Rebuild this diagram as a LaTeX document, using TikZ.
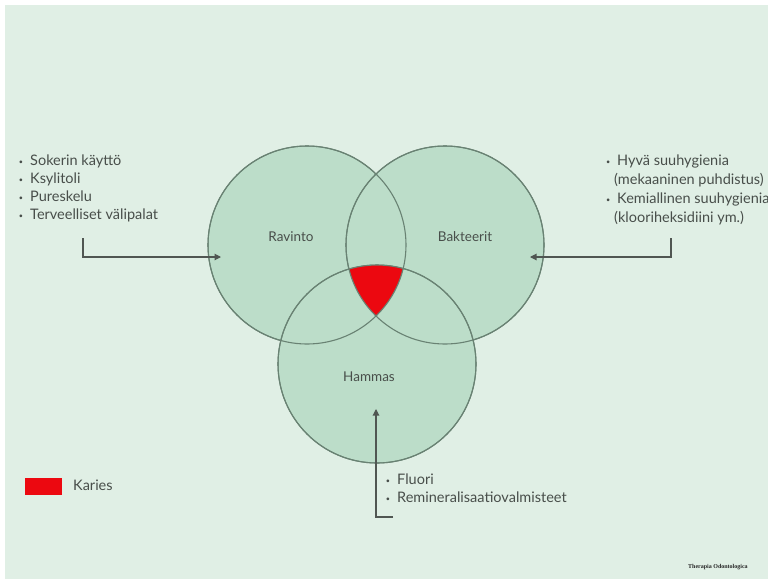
\documentclass[tikz,border=0pt]{standalone}
\usepackage{fontspec}
\usepackage{graphicx}
\setmainfont{Lato}
\newfontfamily\credfont{Liberation Serif}
\usetikzlibrary{arrows.meta}
\definecolor{bgc}{RGB}{224,239,229}
\definecolor{circfill}{RGB}{188,221,201}
\definecolor{circline}{RGB}{105,130,115}
\definecolor{txtc}{RGB}{72,78,74}
\definecolor{linec}{RGB}{80,86,82}
\definecolor{kariesred}{RGB}{236,8,16}
\newcommand\bul{\makebox[0pt][r]{\raisebox{1pt}{\scalebox{0.5}{•}}\hspace{7pt}}}
\tikzset{
  venn/.style={circle, minimum size=198pt, inner sep=0pt, fill=circfill, draw=circline, line width=1.1pt},
  vlabel/.style={font=\fontsize{13.5}{15}\selectfont, text=txtc, inner sep=0pt},
  item/.style={font=\fontsize{14.5}{16}\selectfont, text=txtc, inner sep=0pt, anchor=base west},
  conn/.style={draw=linec, line width=1.1pt, -{Triangle[length=6.5pt,width=6.5pt]}},
}
\begin{document}
\begin{tikzpicture}[x=1pt,y=-1pt]
\useasboundingbox (0,0) rectangle (768,579);
\fill[white] (0,0) rectangle (768,579);
\fill[bgc] (5,5) rectangle (768,579);
\begin{scope}
\clip (0,0) rectangle (768,579);
% circles
\node[venn] (R) at (307,245) {};
\node[venn] (B) at (445,245) {};
\node[venn] (H) at (377,364) {};
\begin{scope}
\clip (R.center) circle[radius=99pt];
\clip (B.center) circle[radius=99pt];
\fill[kariesred] (H.center) circle[radius=99pt];
\end{scope}
\draw[circline, line width=1.1pt] (R.center) circle[radius=99pt];
\draw[circline, line width=1.1pt] (B.center) circle[radius=99pt];
\draw[circline, line width=1.1pt] (H.center) circle[radius=99pt];
% circle labels
\node[vlabel] (Rl) at (291,237) {Ravinto};
\node[vlabel] (Bl) at (465,237) {Bakteerit};
\node[vlabel] (Hl) at (369,377) {Hammas};
% left list
\node[item] (l1) at (30,165) {\bul Sokerin käyttö};
\node[item] (l2) at (30,183) {\bul Ksylitoli};
\node[item] (l3) at (30,201) {\bul Pureskelu};
\node[item] (l4) at (30,219) {\bul Terveelliset välipalat};
% right list
\node[item] (r1) at (617,165) {\bul Hyvä suuhygienia};
\node[item] (r2) at (614,184) {(mekaaninen puhdistus)};
\node[item] (r3) at (617,203) {\bul Kemiallinen suuhygienia};
\node[item] (r4) at (614,222) {(klooriheksidiini ym.)};
% bottom list
\node[item] (b1) at (397,484) {\bul Fluori};
\node[item] (b2) at (397,502) {\bul Remineralisaatiovalmisteet};
% connectors
\coordinate (ls) at (83,238);
\coordinate (lt) at (221,257);
\draw[conn] (ls) |- (lt);
\coordinate (rs) at (671,238);
\coordinate (rt) at (530,257);
\draw[conn] (rs) |- (rt);
\coordinate (bs) at (393,517);
\coordinate (bt) at (376,409);
\draw[conn] (bs) -| (bt);
% legend
\node[fill=kariesred, minimum width=37pt, minimum height=17pt, inner sep=0pt, anchor=north west] (key) at (25,478) {};
\node[item] (keyl) at (73,490) {Karies};
% credit
\node[font=\credfont\bfseries\fontsize{6}{7}\selectfont, text=black!85, inner sep=0pt, anchor=base west] (cred) at (688,568) {Therapia Odontologica};
\end{scope}
\end{tikzpicture}
\end{document}
